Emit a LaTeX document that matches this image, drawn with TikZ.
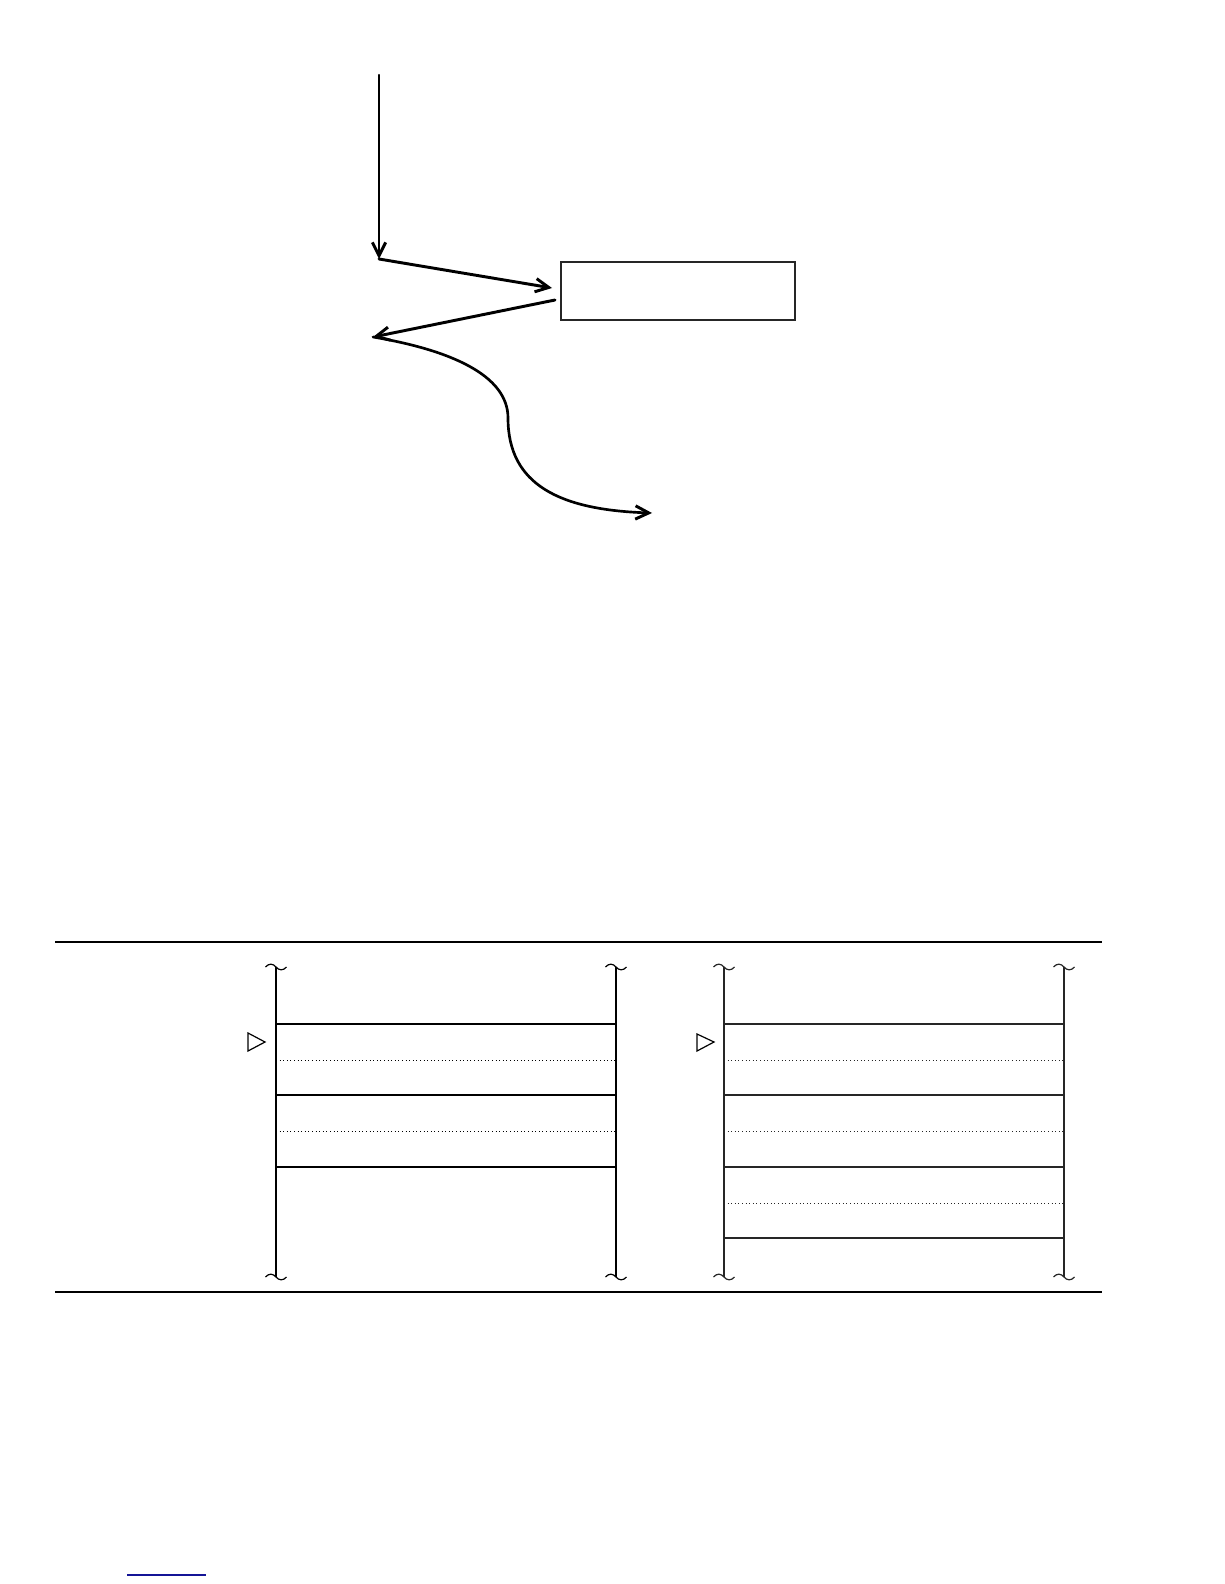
\documentclass[tikz,border=0pt]{standalone}
\usetikzlibrary{arrows.meta}
\definecolor{linkblue}{RGB}{20,20,150}
\begin{document}
\begin{tikzpicture}[x=0.75pt,y=-0.75pt,
  hand/.style={line width=2.2pt, line cap=round, -{Straight Barb[length=10pt,width=10pt,line width=2.2pt]}},
  boxst/.style={draw=black!85, line width=0.85pt, inner sep=0pt, minimum width=175.5pt, minimum height=43.5pt},
  rail/.style={line width=0.95pt},
  solidrule/.style={line width=0.85pt},
  dotrule/.style={line width=0.7pt, dotted},
  tri/.style={line width=0.9pt, line join=miter},
  tilde/.pic={\draw[line width=0.9pt] (-10.5,0) .. controls (-7,-4) and (-3,-3.5) .. (0,0) .. controls (3,3.5) and (7,4) .. (10.5,0);}
]
\useasboundingbox (0,0) rectangle (1224,1584);
\fill[white] (0,0) rectangle (1224,1584);

% ---------- upper sketch ----------
\node[boxst] (box) at (678,291) {};
\coordinate (vtop) at (379,75);
\coordinate (vbot) at (379,259);
\coordinate (inend) at (552,288);
\coordinate (outstart) at (555,300);
\coordinate (outend) at (373,337);
\coordinate (wend) at (652,513);

\draw[hand, line width=1.7pt] (vtop) -- (vbot);
\draw[hand] (vbot) -- (inend);
\draw[hand] (outstart) -- (outend);
\draw[hand, line width=2pt] (outend) .. controls (450,350) and (508,375) .. (508,418)
  .. controls (508,485) and (560,510) .. (wend);

% ---------- rules ----------
\coordinate (rtl) at (55,942);
\coordinate (rtr) at (1102,942);
\coordinate (rbl) at (55,1292);
\coordinate (rbr) at (1102,1292);
\draw[line width=1.6pt] (rtl) -- (rtr);
\draw[line width=0.9pt] (rbl) -- (rbr);

% ---------- left panel ----------
\begin{scope}
\draw[rail] (276,967) -- (276,1277);
\draw[rail] (616,967) -- (616,1277);
\pic at (276,967) {tilde};
\pic at (616,967) {tilde};
\pic at (276,1277) {tilde};
\pic at (616,1277) {tilde};
\foreach \y in {1024,1095,1167} \draw[solidrule] (276,\y) -- (616,\y);
\foreach \y in {1060,1131} \draw[dotrule] (276,\y) -- (616,\y);
\draw[tri] (248,1033) -- (265,1042) -- (248,1051) -- cycle;
\end{scope}

% ---------- right panel ----------
\begin{scope}[black!85]
\draw[rail] (724,967) -- (724,1277);
\draw[rail] (1064,967) -- (1064,1277);
\pic at (724,967) {tilde};
\pic at (1064,967) {tilde};
\pic at (724,1277) {tilde};
\pic at (1064,1277) {tilde};
\foreach \y in {1024,1095,1167,1238} \draw[solidrule] (724,\y) -- (1064,\y);
\foreach \y in {1060,1131,1203} \draw[dotrule] (724,\y) -- (1064,\y);
\draw[tri, black] (697,1034) -- (714,1042) -- (697,1051) -- cycle;
\end{scope}

% ---------- blue footnote rule ----------
\coordinate (bl1) at (127,1575);
\coordinate (bl2) at (206,1575);
\draw[linkblue, line width=1pt] (bl1) -- (bl2);
\end{tikzpicture}
\end{document}
